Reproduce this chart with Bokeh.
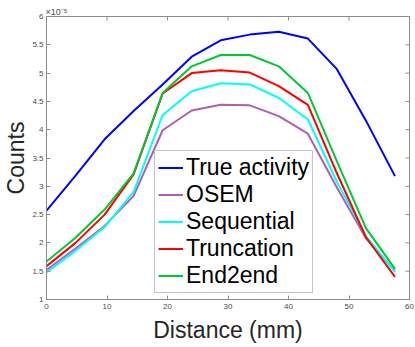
import math
from bokeh.plotting import figure
from bokeh.models import FixedTicker, Range1d, Legend, LegendItem, LinearAxis
from bokeh.embed import file_html
from bokeh.resources import INLINE

# Data (counts in units of 1e-5)
distance = [0, 4.8, 9.6, 14.4, 19.2, 24, 28.8, 33.6, 38.4, 43.2, 48, 52.8, 57.6]
true_activity = [2.57, 3.19, 3.83, 4.33, 4.80, 5.29, 5.58, 5.68, 5.73, 5.61, 5.07, 4.16, 3.18]
osem = [1.52, 1.90, 2.30, 2.83, 3.99, 4.34, 4.44, 4.43, 4.24, 3.93, 2.98, 2.08, 1.50]
sequential = [1.48, 1.86, 2.28, 2.90, 4.26, 4.68, 4.82, 4.80, 4.56, 4.18, 3.08, 2.12, 1.49]
truncation = [1.59, 2.00, 2.50, 3.21, 4.64, 5.00, 5.05, 5.01, 4.77, 4.44, 3.23, 2.10, 1.40]
end2end = [1.67, 2.09, 2.59, 3.23, 4.65, 5.12, 5.32, 5.32, 5.12, 4.65, 3.44, 2.26, 1.54]

series_names = ["True activity", "OSEM", "Sequential", "Truncation", "End2end"]
series_values = [true_activity, osem, sequential, truncation, end2end]
series_colors = ["#0000ff", "#b35cb0", "#00ffff", "#ff0000", "#00c832"]

xticks = [0, 10, 20, 30, 40, 50, 60]
yticks = [1, 1.5, 2, 2.5, 3, 3.5, 4, 4.5, 5, 5.5, 6]
ytick_labels = {1: "1", 1.5: "1.5", 2: "2", 2.5: "2.5", 3: "3", 3.5: "3.5", 4: "4",
                4.5: "4.5", 5: "5", 5.5: "5.5", 6: "6"}
exponent_text = "×10⁻⁵"

FONT = "Liberation Sans"
AXIS_COLOR = "#8c8c8c"
TICK_TEXT = "#4d4d4d"

p = figure(width=415, height=347, output_backend="svg", toolbar_location=None, title=None,
           x_range=Range1d(xticks[0], xticks[-1]), y_range=Range1d(yticks[0], yticks[-1]),
           min_border_left=45, min_border_right=6, min_border_top=16, min_border_bottom=48)
p.xgrid.visible = False
p.ygrid.visible = False
p.outline_line_color = AXIS_COLOR
p.background_fill_color = "white"
p.border_fill_color = "white"

def style_axis(ax):
    ax.axis_line_color = AXIS_COLOR
    ax.major_tick_line_color = AXIS_COLOR
    ax.major_tick_in = 4
    ax.major_tick_out = 0
    ax.minor_tick_line_color = None
    ax.major_label_text_font = FONT
    ax.major_label_text_color = TICK_TEXT
    ax.major_label_text_font_size = "8px"
    ax.axis_label_text_font = FONT
    ax.axis_label_text_font_style = "normal"
    ax.axis_label_text_color = "#262626"
    ax.axis_label_text_font_size = "23px"

xa = p.xaxis[0]
xa.ticker = FixedTicker(ticks=xticks)
style_axis(xa)
xa.major_label_standoff = 4
xa.axis_label = "Distance (mm)"
xa.axis_label_standoff = 5

ya = p.yaxis[0]
ya.ticker = FixedTicker(ticks=yticks)
ya.major_label_overrides = ytick_labels
style_axis(ya)
ya.major_label_standoff = 3
ya.axis_label = "Counts"
ya.axis_label_standoff = 0

# exponent marker above the top-left corner, carried by a label-only top axis
# (leading no-break spaces push the centred text to start at the frame edge)
top = LinearAxis(ticker=FixedTicker(ticks=[xticks[0]]),
                 major_label_overrides={xticks[0]: "\u00a0" * 8 + exponent_text})
style_axis(top)
top.axis_line_color = None
top.major_tick_line_color = None
top.major_label_text_font_size = "9px"
top.major_label_standoff = 0
p.add_layout(top, "above")

# inward tick marks on top and right edges (half of each dash is clipped by the frame)
p.scatter(xticks, [yticks[-1]] * len(xticks), marker="dash", size=8, angle=math.pi / 2,
          line_color=AXIS_COLOR, line_width=1)
p.scatter([xticks[-1]] * len(yticks), yticks, marker="dash", size=8,
          line_color=AXIS_COLOR, line_width=1)

items = []
for name, vals, col in zip(series_names, series_values, series_colors):
    r = p.line(distance, vals, line_color=col, line_width=2)
    items.append(LegendItem(label=name, renderers=[r]))

legend = Legend(items=items, location=(108, 6))
legend.label_text_font = FONT
legend.label_text_font_size = "23px"
legend.label_text_color = "black"
legend.border_line_color = AXIS_COLOR
legend.border_line_width = 1
legend.background_fill_color = "white"
legend.background_fill_alpha = 1
legend.padding = 3
legend.margin = 0
legend.spacing = 0
legend.label_height = 27
legend.glyph_height = 27
legend.glyph_width = 25
legend.label_standoff = 3
p.add_layout(legend, "center")

open("out.html", "w").write(file_html(p, INLINE))
